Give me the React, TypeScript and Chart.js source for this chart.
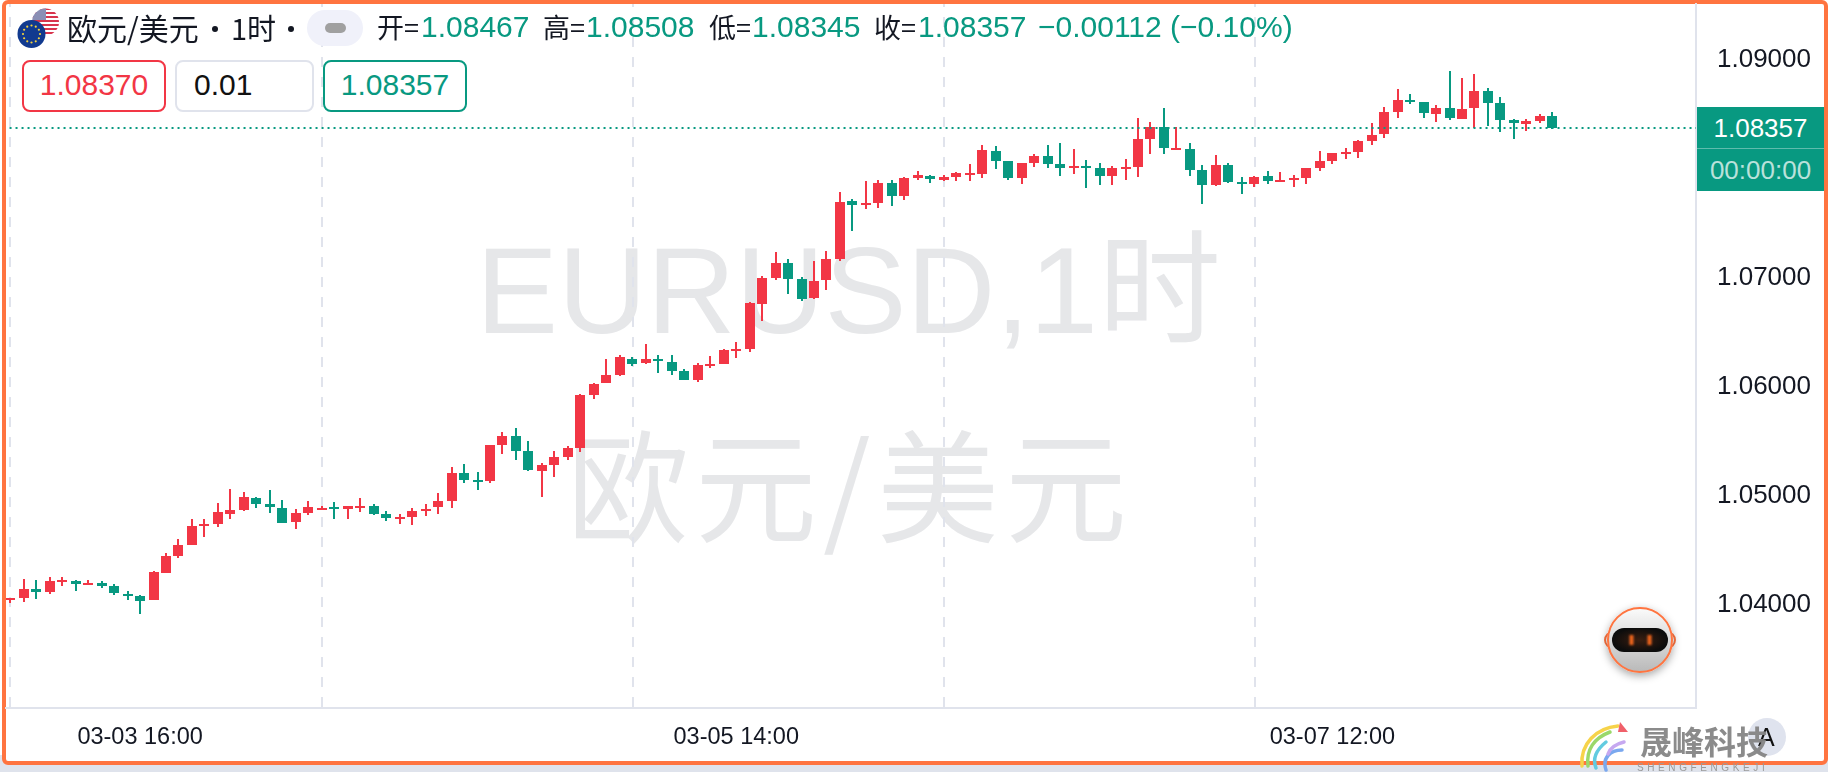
import React, { useEffect, useRef } from "react";
import { Chart, registerables } from "chart.js";

Chart.register(...registerables);

const opens = [1.04028,1.04046,1.04129,1.04101,1.04193,1.04202,1.04165,1.04184,1.04156,1.04083,1.04064,1.04028,1.04275,1.04431,1.04532,1.04706,1.04725,1.04817,1.04853,1.04963,1.04908,1.04872,1.04743,1.04826,1.04853,1.04881,1.04862,1.04872,1.04890,1.04817,1.04771,1.04789,1.04844,1.04881,1.04936,1.05192,1.05128,1.05119,1.05449,1.05532,1.05394,1.05211,1.05266,1.05339,1.05422,1.05908,1.06019,1.06092,1.06239,1.06202,1.06239,1.06211,1.06129,1.06046,1.06175,1.06193,1.06312,1.06330,1.06743,1.06980,1.07119,1.06972,1.06798,1.06963,1.07156,1.07688,1.07651,1.07669,1.07853,1.07734,1.07899,1.07917,1.07880,1.07908,1.07926,1.07936,1.08147,1.08055,1.07899,1.08037,1.08101,1.08027,1.07991,1.08010,1.07991,1.07917,1.07982,1.08000,1.08257,1.08367,1.08156,1.08165,1.07973,1.07835,1.08019,1.07863,1.07844,1.07917,1.07863,1.07880,1.07899,1.07991,1.08055,1.08120,1.08138,1.08239,1.08303,1.08505,1.08615,1.08597,1.08487,1.08542,1.08440,1.08542,1.08697,1.08587,1.08432,1.08395,1.08422,1.08467];
const highs = [1.04046,1.04220,1.04211,1.04239,1.04239,1.04211,1.04211,1.04202,1.04174,1.04110,1.04073,1.04294,1.04459,1.04587,1.04771,1.04771,1.04917,1.05046,1.05018,1.04973,1.05037,1.04945,1.04862,1.04936,1.04890,1.04927,1.04890,1.04963,1.04908,1.04844,1.04817,1.04872,1.04908,1.05009,1.05247,1.05275,1.05201,1.05449,1.05568,1.05605,1.05486,1.05284,1.05394,1.05440,1.05918,1.06019,1.06239,1.06275,1.06257,1.06376,1.06275,1.06275,1.06147,1.06202,1.06266,1.06330,1.06395,1.06762,1.07000,1.07220,1.07156,1.06991,1.07137,1.07229,1.07770,1.07706,1.07871,1.07880,1.07880,1.07908,1.07963,1.07926,1.07926,1.07954,1.08027,1.08202,1.08193,1.08055,1.08037,1.08120,1.08202,1.08221,1.08165,1.08065,1.08037,1.08010,1.08074,1.08450,1.08413,1.08542,1.08367,1.08221,1.08019,1.08110,1.08037,1.07908,1.07917,1.07963,1.07954,1.07926,1.07991,1.08147,1.08129,1.08175,1.08248,1.08404,1.08551,1.08716,1.08670,1.08597,1.08569,1.08881,1.08817,1.08853,1.08725,1.08642,1.08440,1.08440,1.08487,1.08508];
const lows = [1.04000,1.04010,1.04037,1.04083,1.04156,1.04110,1.04165,1.04138,1.04073,1.04028,1.03900,1.04028,1.04275,1.04413,1.04532,1.04606,1.04697,1.04771,1.04844,1.04872,1.04826,1.04734,1.04679,1.04807,1.04853,1.04771,1.04771,1.04835,1.04807,1.04752,1.04725,1.04716,1.04798,1.04817,1.04872,1.05100,1.05037,1.05100,1.05367,1.05312,1.05211,1.04973,1.05156,1.05312,1.05385,1.05872,1.06019,1.06083,1.06175,1.06193,1.06110,1.06092,1.06046,1.06028,1.06156,1.06193,1.06248,1.06303,1.06587,1.06963,1.06835,1.06771,1.06789,1.06871,1.07137,1.07413,1.07614,1.07624,1.07642,1.07697,1.07880,1.07853,1.07871,1.07871,1.07871,1.07899,1.07982,1.07880,1.07844,1.08000,1.07991,1.07917,1.07936,1.07808,1.07835,1.07835,1.07880,1.07908,1.08120,1.08120,1.08156,1.07917,1.07660,1.07826,1.07853,1.07752,1.07817,1.07844,1.07863,1.07817,1.07844,1.07963,1.08027,1.08074,1.08083,1.08202,1.08266,1.08450,1.08578,1.08450,1.08413,1.08432,1.08440,1.08358,1.08377,1.08321,1.08257,1.08331,1.08404,1.08345];
const closes = [1.04046,1.04129,1.04101,1.04202,1.04211,1.04174,1.04184,1.04156,1.04092,1.04064,1.04019,1.04284,1.04431,1.04532,1.04706,1.04725,1.04835,1.04853,1.04973,1.04908,1.04881,1.04734,1.04826,1.04881,1.04872,1.04862,1.04890,1.04890,1.04817,1.04780,1.04789,1.04844,1.04862,1.04936,1.05192,1.05128,1.05110,1.05449,1.05532,1.05394,1.05220,1.05266,1.05339,1.05422,1.05908,1.06009,1.06092,1.06257,1.06193,1.06239,1.06220,1.06129,1.06046,1.06184,1.06193,1.06321,1.06330,1.06752,1.06980,1.07119,1.06972,1.06789,1.06954,1.07156,1.07679,1.07651,1.07669,1.07853,1.07734,1.07899,1.07926,1.07890,1.07908,1.07945,1.07945,1.08156,1.08055,1.07899,1.08037,1.08101,1.08027,1.07991,1.08010,1.07991,1.07917,1.07991,1.08000,1.08257,1.08367,1.08175,1.08175,1.07973,1.07835,1.08019,1.07863,1.07844,1.07908,1.07871,1.07880,1.07899,1.07991,1.08055,1.08129,1.08138,1.08239,1.08294,1.08505,1.08615,1.08597,1.08496,1.08542,1.08450,1.08532,1.08697,1.08587,1.08432,1.08404,1.08422,1.08468,1.08357];

const priceTicks = [1.04, 1.05, 1.06, 1.07, 1.09];
const gridIndexes = [0, 24, 48, 72, 96];
const timeIndexes = [10, 56, 102];
const timeLabels = ["03-03 16:00", "03-05 14:00", "03-07 12:00"];

const UP = "#f23645";
const DOWN = "#089981";
const LINE = "#e0e3ec";
const WATERMARK = "#e6e7e9";
const LATIN = '"Liberation Sans","Noto Sans CJK SC",sans-serif';
const CJK = '"Noto Sans CJK SC","Liberation Sans",sans-serif';

const snapPlugin = {
  id: "snap",
  afterDatasetsUpdate(chart: any) {
    chart.data.datasets.forEach((_: any, i: number) => {
      const meta = chart.getDatasetMeta(i);
      if (meta.type !== "bar") return;
      meta.data.forEach((el: any) => {
        el.x = Math.round(el.x / 2) * 2;
        el.y = Math.round(el.y);
        el.base = Math.round(el.base);
        el.height = el.base - el.y;
      });
    });
  },
};

function Txt({ x, y, size = 30, color = "#131722", font = LATIN, children, style }: any) {
  return (
    <div
      style={{
        position: "absolute",
        left: x,
        top: y,
        fontSize: size,
        lineHeight: "34px",
        height: 34,
        whiteSpace: "pre",
        color,
        fontFamily: font,
        ...style,
      }}
    >
      {children}
    </div>
  );
}

function Box({ x, w, color, children, left }: any) {
  return (
    <div
      style={{
        position: "absolute",
        left: x,
        top: 60,
        width: w,
        height: 52,
        boxSizing: "border-box",
        border: `2px solid ${color}`,
        borderRadius: 8,
        background: "#fff",
        textAlign: left ? "left" : "center",
        paddingLeft: left ? left : 0,
        lineHeight: "46px",
        fontSize: 30,
        fontFamily: LATIN,
        color: color === LINE ? "#111" : color,
      }}
    >
      {children}
    </div>
  );
}

function Flags() {
  const stripes = [0, 1, 2, 3, 4, 5, 6];
  const stars = Array.from({ length: 12 }, (_, k) => k);
  return (
    <svg width="64" height="52" style={{ position: "absolute", left: 8, top: 4 }}>
      <defs>
        <clipPath id="us">
          <circle cx="37.5" cy="18" r="13.5" />
        </clipPath>
      </defs>
      <g clipPath="url(#us)">
        <rect x="20" y="2" width="40" height="32" fill="#fff" />
        {stripes.map((k) => (
          <rect key={k} x="20" y={4 + k * 4} width="40" height="2" fill="#d8344d" />
        ))}
        <rect x="22" y="2" width="16" height="14" fill="#8a8fb5" />
      </g>
      <circle cx="23.5" cy="30" r="14" fill="#113a8f" />
      {stars.map((k) => (
        <circle
          key={k}
          cx={23.5 + 8.5 * Math.cos((k * Math.PI) / 6)}
          cy={30 + 8.5 * Math.sin((k * Math.PI) / 6)}
          r="1.1"
          fill="#f3d23c"
        />
      ))}
    </svg>
  );
}

function Robot() {
  return (
    <svg width="90" height="90" style={{ position: "absolute", left: 1595, top: 595 }}>
      <defs>
        <linearGradient id="rb" x1="0" y1="0" x2="0" y2="1">
          <stop offset="0" stopColor="#fbfbfb" />
          <stop offset="1" stopColor="#b9b9b9" />
        </linearGradient>
        <radialGradient id="vis" cx="0.5" cy="0.5" r="0.5">
          <stop offset="0" stopColor="#3a1e10" />
          <stop offset="1" stopColor="#0c0c0c" />
        </radialGradient>
        <filter id="rs" x="-30%" y="-30%" width="160%" height="160%">
          <feDropShadow dx="0" dy="3" stdDeviation="4" floodColor="#000" floodOpacity="0.35" />
        </filter>
        <filter id="eye" x="-100%" y="-100%" width="300%" height="300%">
          <feGaussianBlur stdDeviation="1" />
        </filter>
      </defs>
      <rect x="10" y="37" width="70" height="16" rx="8" fill="#fff" stroke="#ff7440" strokeWidth="2" />
      <circle cx="45" cy="45" r="32" fill="url(#rb)" stroke="#ff7440" strokeWidth="2" filter="url(#rs)" />
      <rect x="17" y="33" width="56" height="24" rx="12" fill="url(#vis)" />
      <rect x="34.5" y="40" width="4" height="10" fill="#f2661e" filter="url(#eye)" />
      <rect x="52.5" y="40" width="4" height="10" fill="#f2661e" filter="url(#eye)" />
    </svg>
  );
}

function Logo() {
  const arcs = [
    ["#f6d34a", "M44 6 C22 8 6 24 8 46"],
    ["#9ad86a", "M36 12 C20 18 12 30 14 46"],
    ["#62cbe0", "M32 22 C22 30 18 38 22 48"],
    ["#7aa8ef", "M48 30 C36 30 28 38 32 50"],
    ["#c6a8f0", "M50 22 C42 24 36 28 34 34"],
  ];
  return (
    <svg width="60" height="52" style={{ position: "absolute", left: 1574, top: 720 }}>
      {arcs.map(([c, d]) => (
        <path key={c} d={d} fill="none" stroke={c} strokeWidth="3.5" strokeLinecap="round" />
      ))}
      <path d="M46 2 L54 12 L44 12 Z" fill="#f0606a" />
    </svg>
  );
}

const Dot = ({ x }: any) => (
  <div style={{ position: "absolute", left: x, top: 26, width: 6, height: 6, borderRadius: 3, background: "#131722" }} />
);

export default function App() {
  const ref = useRef<HTMLCanvasElement>(null);

  useEffect(() => {
    document.body.style.margin = "0";
    const indexes = opens.map((_, i) => i);
    const colors = opens.map((o, i) => (closes[i] >= o ? UP : DOWN));
    const chart = new Chart(ref.current!, {
      type: "bar",
      plugins: [snapPlugin],
      data: {
        datasets: [
          {
            type: "line",
            data: [
              { x: -1, y: closes[closes.length - 1] },
              { x: 131, y: closes[closes.length - 1] },
            ],
            borderColor: DOWN,
            borderWidth: 2,
            borderDash: [2, 4],
            pointRadius: 0,
            order: 0,
          },
          {
            type: "bar",
            data: indexes.map((i) => ({ x: i, y: [opens[i], closes[i]] })),
            backgroundColor: colors,
            barThickness: 10,
            grouped: false,
            inflateAmount: 0,
            borderSkipped: false,
            order: 1,
          },
          {
            type: "bar",
            data: indexes.map((i) => ({ x: i, y: [lows[i], highs[i]] })),
            backgroundColor: colors,
            barThickness: 2,
            grouped: false,
            inflateAmount: 0,
            borderSkipped: false,
            order: 2,
          },
        ],
      } as any,
      options: {
        responsive: false,
        animation: false,
        events: [],
        layout: { autoPadding: false, padding: { left: 6, top: 4, right: 0, bottom: 0 } },
        plugins: { legend: { display: false }, title: { display: false }, tooltip: { enabled: false } },
        scales: {
          x: {
            type: "linear",
            offset: false,
            min: -0.3472,
            max: 130.054,
            afterBuildTicks(axis: any) {
              axis.ticks = [...gridIndexes, ...timeIndexes]
                .sort((a, b) => a - b)
                .map((value) => ({ value }));
            },
            afterFit(axis: any) {
              axis.height = 64;
              axis.paddingLeft = 0;
              axis.paddingRight = 0;
            },
            ticks: {
              autoSkip: false,
              maxRotation: 0,
              padding: 15,
              color: "#131722",
              font: { family: LATIN, size: 23.5 },
              callback: (v: any) => {
                const k = timeIndexes.indexOf(v);
                return k >= 0 ? timeLabels[k] : "";
              },
            },
            grid: {
              offset: false,
              drawTicks: false,
              lineWidth: 2,
              color: (ctx: any) =>
                ctx.tick && gridIndexes.includes(ctx.tick.value) ? LINE : "rgba(0,0,0,0)",
            },
            border: { display: true, color: LINE, width: 2, dash: [10, 10], dashOffset: 7 },
          },
          y: {
            type: "linear",
            position: "right",
            min: 1.030367,
            max: 1.094954,
            afterBuildTicks(axis: any) {
              axis.ticks = priceTicks.map((value) => ({ value }));
            },
            afterFit(axis: any) {
              axis.width = 132;
              axis.paddingTop = 0;
              axis.paddingBottom = 0;
            },
            ticks: {
              padding: 21,
              labelOffset: 1.5,
              color: "#131722",
              font: { family: LATIN, size: 26 },
              callback: (v: any) => Number(v).toFixed(5),
            },
            grid: { display: false, drawTicks: false },
            border: { display: true, color: LINE, width: 2 },
          },
        },
      } as any,
    });
    return () => chart.destroy();
  }, []);

  return (
    <div style={{ position: "fixed", left: 0, top: 0, width: 1828, height: 772, overflow: "hidden", background: "#fff" }}>
      <div style={{ position: "absolute", left: 0, top: 755, width: 1828, height: 17, background: "#dfe3ec" }} />
      <div
        style={{
          position: "absolute",
          left: 2,
          top: 0,
          width: 1826,
          height: 765,
          boxSizing: "border-box",
          border: "4px solid #ff7440",
          borderRadius: 6,
          background: "#fff",
        }}
      />
      <div
        style={{ position: "absolute", left: 476, top: 219, width: 741, textAlign: "center", fontSize: 123, lineHeight: "144px", whiteSpace: "pre", color: WATERMARK, fontFamily: LATIN }}
      >
        EURUSD,1时
      </div>
      <div
        style={{ position: "absolute", left: 540, top: 406, width: 620, textAlign: "center", fontSize: 122, lineHeight: "148px", letterSpacing: "6px", whiteSpace: "pre", color: WATERMARK, fontFamily: CJK }}
      >
        欧元/美元
      </div>

      <canvas ref={ref} width={1828} height={772} style={{ position: "absolute", left: 0, top: 0, display: "block" }} />

      <Flags />
      <Txt x={67} y={10} size={30} font={CJK}>欧元/美元</Txt>
      <Dot x={212} />
      <Txt x={231} y={10} size={29} font={CJK}>1时</Txt>
      <Dot x={288} />
      <div style={{ position: "absolute", left: 307, top: 10, width: 56, height: 36, borderRadius: 18, background: "#f0f1fa" }} />
      <div style={{ position: "absolute", left: 325, top: 23, width: 21, height: 10, borderRadius: 5, background: "#a0a0a0" }} />
      <Txt x={377} y={10} font={CJK} size={27}>开=</Txt>
      <Txt x={421} y={10} color={DOWN}>1.08467</Txt>
      <Txt x={543} y={10} font={CJK} size={27}>高=</Txt>
      <Txt x={586} y={10} color={DOWN}>1.08508</Txt>
      <Txt x={709} y={10} font={CJK} size={27}>低=</Txt>
      <Txt x={752} y={10} color={DOWN}>1.08345</Txt>
      <Txt x={874} y={10} font={CJK} size={27}>收=</Txt>
      <Txt x={918} y={10} color={DOWN}>1.08357</Txt>
      <Txt x={1038} y={10} color={DOWN}>−0.00112 (−0.10%)</Txt>

      <Box x={22} w={144} color={UP}>1.08370</Box>
      <Box x={175} w={139} color={LINE} left={17}>0.01</Box>
      <Box x={323} w={144} color={DOWN}>1.08357</Box>

      <div style={{ position: "absolute", left: 1697, top: 107, width: 127, height: 84, background: DOWN }}>
        <div style={{ height: 41, lineHeight: "43px", textAlign: "center", color: "#fff", fontSize: 26, fontFamily: LATIN, borderBottom: "1px solid rgba(255,255,255,0.35)" }}>1.08357</div>
        <div style={{ height: 42, lineHeight: "42px", textAlign: "center", color: "rgba(255,255,255,0.72)", fontSize: 26, fontFamily: LATIN }}>00:00:00</div>
      </div>

      <Robot />

      <div style={{ position: "absolute", left: 1748, top: 718, width: 38, height: 38, borderRadius: 19, background: "#dfe3ee" }} />
      <Txt x={1758} y={720} size={25} color="#111">A</Txt>
      <Logo />
      <Txt x={1640} y={723} size={32} color="#858585" font={CJK} style={{ fontWeight: 700, opacity: 0.95 }}>晟峰科技</Txt>
      <div style={{ position: "absolute", left: 1637, top: 762, width: 140, fontSize: 10, lineHeight: "12px", letterSpacing: "3.6px", whiteSpace: "pre", color: "#9a9a9a", fontFamily: LATIN }}>SHENGFENGKEJI</div>
    </div>
  );
}
